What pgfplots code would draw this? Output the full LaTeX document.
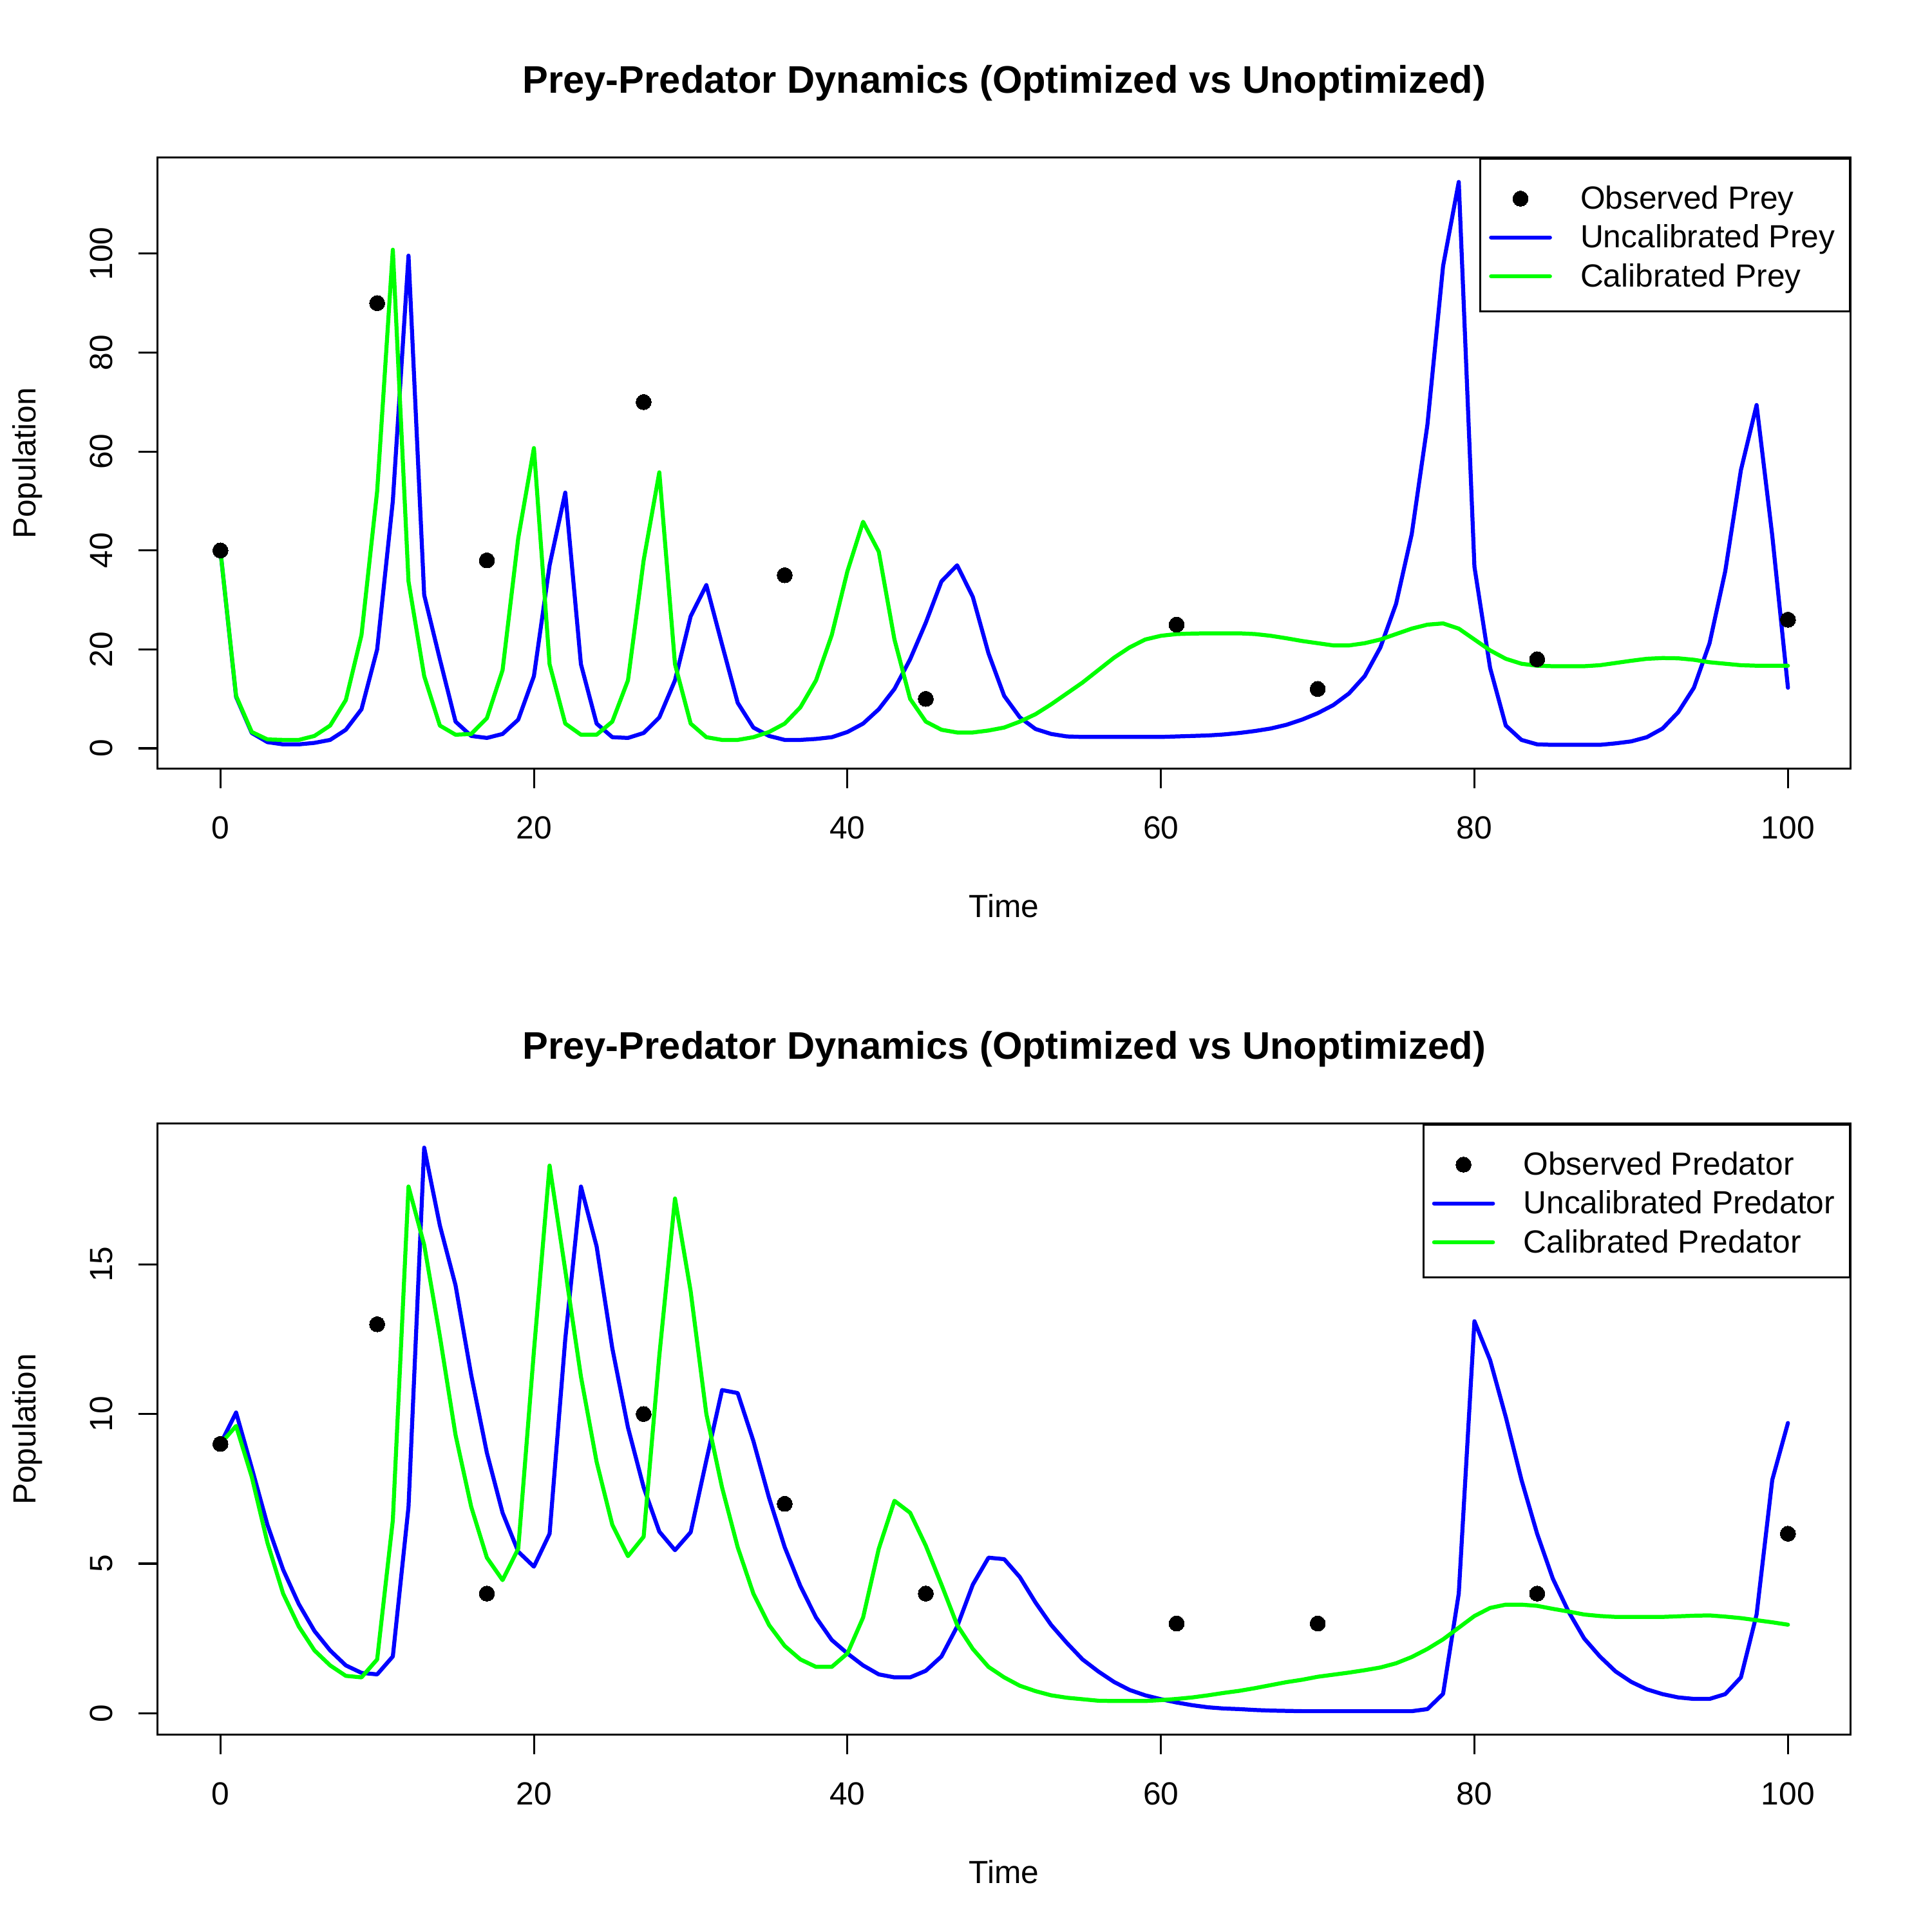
\documentclass[border=0pt]{standalone}
\usepackage{fontspec}
\setmainfont{Liberation Sans}
\usepackage{pgfplots}
\usepackage{pgfplotstable}
\pgfplotsset{compat=1.18}
\definecolor{rblue}{RGB}{0,0,255}
\definecolor{rgreen}{RGB}{0,255,0}

\pgfplotstableread{
t ub ug
0 40 40
1 10.4 10.6
2 3.1 3.3
3 1.25 1.8
4 0.8 1.7
5 0.8 1.7
6 1.1 2.5
7 1.7 4.6
8 3.75 9.75
9 7.9 22.9
10 20 52
11 50 100.8
12 99.6 33.75
13 31 14.6
14 18 4.6
15 5.4 2.75
16 2.5 2.9
17 2.1 6.1
18 2.9 15.8
19 5.8 42.5
20 14.6 60.7
21 37 17
22 51.7 5
23 17 2.75
24 5 2.75
25 2.25 5.4
26 2.1 13.75
27 3.1 38
28 6.25 55.8
29 13.75 17
30 26.7 5
31 33 2.25
32 21 1.7
33 9.2 1.7
34 4.2 2.25
35 2.5 3.3
36 1.7 5
37 1.7 8.3
38 1.9 13.75
39 2.25 22.9
40 3.3 35.8
41 5 45.8
42 7.9 39.75
43 12 22
44 18 10
45 25.4 5.4
46 33.75 3.75
47 37 3.2
48 30.6 3.2
49 19.2 3.6
50 10.6 4.2
51 6.25 5.4
52 3.9 6.9
53 2.9 8.9
54 2.4 11.1
55 2.3 13.3
56 2.3 15.8
57 2.3 18.3
58 2.3 20.4
59 2.3 22
60 2.3 22.75
61 2.4 23.1
62 2.5 23.2
63 2.6 23.25
64 2.8 23.25
65 3.1 23.25
66 3.5 23.1
67 4 22.75
68 4.75 22.25
69 5.8 21.7
70 7.1 21.25
71 8.75 20.8
72 11.1 20.8
73 14.6 21.25
74 20.4 22
75 29.2 23.1
76 43.3 24.2
77 65.4 25
78 97.5 25.25
79 114.5 24.2
80 36.7 22
81 16.25 19.8
82 4.6 18.1
83 1.7 17.1
84 0.8 16.7
85 0.7 16.6
86 0.7 16.6
87 0.7 16.6
88 0.7 16.8
89 1.0 17.25
90 1.4 17.7
91 2.25 18.1
92 4 18.25
93 7.3 18.2
94 12.25 17.9
95 21.25 17.4
96 35.8 17.1
97 56.25 16.8
98 69.4 16.7
99 43 16.7
100 12.25 16.7
}\preytable

\pgfplotstableread{
t ub ug
0 9 9
1 10.05 9.6
2 8.2 7.9
3 6.3 5.7
4 4.8 4.0
5 3.65 2.9
6 2.75 2.1
7 2.1 1.6
8 1.6 1.25
9 1.35 1.2
10 1.3 1.8
11 1.9 6.45
12 6.9 17.6
13 18.9 15.65
14 16.3 12.6
15 14.3 9.3
16 11.3 6.9
17 8.7 5.2
18 6.7 4.45
19 5.4 5.5
20 4.9 12.1
21 6.0 18.3
22 12.5 14.8
23 17.6 11.25
24 15.6 8.4
25 12.2 6.3
26 9.55 5.25
27 7.55 5.9
28 6.07 11.95
29 5.45 17.2
30 6.05 14.1
31 8.45 10.0
32 10.8 7.55
33 10.7 5.55
34 9.1 4.0
35 7.2 2.95
36 5.55 2.25
37 4.25 1.8
38 3.2 1.55
39 2.45 1.55
40 2.0 2.0
41 1.6 3.2
42 1.3 5.5
43 1.2 7.1
44 1.2 6.7
45 1.42 5.6
46 1.9 4.3
47 2.9 2.95
48 4.3 2.15
49 5.2 1.55
50 5.15 1.2
51 4.55 0.92
52 3.7 0.74
53 2.95 0.6
54 2.35 0.52
55 1.8 0.47
56 1.4 0.42
57 1.05 0.41
58 0.78 0.41
59 0.6 0.41
60 0.47 0.44
61 0.36 0.48
62 0.27 0.53
63 0.2 0.6
64 0.16 0.68
65 0.14 0.75
66 0.11 0.84
67 0.09 0.94
68 0.08 1.04
69 0.07 1.12
70 0.07 1.22
71 0.07 1.29
72 0.07 1.36
73 0.07 1.44
74 0.07 1.53
75 0.07 1.67
76 0.07 1.88
77 0.14 2.15
78 0.65 2.47
79 4.0 2.86
80 13.1 3.25
81 11.8 3.52
82 9.9 3.63
83 7.8 3.63
84 6.0 3.59
85 4.5 3.49
86 3.4 3.4
87 2.5 3.3
88 1.9 3.25
89 1.4 3.22
90 1.05 3.22
91 0.8 3.22
92 0.64 3.22
93 0.53 3.24
94 0.48 3.26
95 0.48 3.27
96 0.64 3.23
97 1.2 3.18
98 3.3 3.11
99 7.8 3.04
100 9.7 2.96
}\predtable

\pgfplotstableread{
t prey pred
0 40 9
10 90 13
17 38 4
27 70 10
36 35 7
45 10 4
61 25 3
70 12 3
84 18 4
100 26 6
}\obstable

\pgfplotsset{
  rstyle/.style={
    scale only axis,
    width=632.04bp, height=228.16bp,
    xmin=-4, xmax=104,
    axis line style={line width=0.75bp},
    every tick/.style={black, line width=0.75bp},
    tick align=outside,
    major tick length=7.2bp,
    xtick={0,20,...,100},
    xtick pos=bottom, ytick pos=left,
    /pgf/number format/assume math mode=true,
    tick label style={font=\fontsize{12}{14}\selectfont},
    xticklabel style={anchor=north, inner sep=0pt, yshift=-10.4bp},
    yticklabel style={rotate=90, anchor=south, inner sep=0pt, yshift=9.5bp},
    legend cell align=left,
    legend style={at={(1,1)}, anchor=north east, draw=black, line width=0.75bp,
      fill=white, font=\fontsize{12}{14}\selectfont,
      inner xsep=3.2bp, inner ysep=8bp, row sep=2.5bp,
      nodes={inner sep=0pt, text height=10.8bp, text depth=1.2bp},
      /tikz/every odd column/.append style={column sep=10.6bp}},
  },
  obsstyle/.style={only marks, mark=*, mark size=2.85bp, black,
    mark options={line width=0pt},
    legend image code/.code={\draw[mark repeat=2,mark phase=2,##1] plot coordinates {(0bp,-0.9bp) (11bp,-0.9bp) (22bp,-0.9bp)};}},
  linestyle/.style={no marks, line width=1.5bp, line join=round, line cap=round, #1,
    legend image code/.code={\draw[##1] (0bp,-0.9bp) -- (22bp,-0.9bp);}},
}

\begin{document}
\begin{tikzpicture}
\path[use as bounding box] (0bp,0bp) rectangle (721.3bp,-721.3bp);

\begin{axis}[rstyle, at={(58.88bp,-287.04bp)}, anchor=south west,
  ymin=-4.15, ymax=119.4, ytick={0,20,...,100}]
\addplot[obsstyle] table[x=t, y=prey] {\obstable};
\addlegendentry{Observed Prey}
\addplot[linestyle=rblue] table[x=t, y=ub] {\preytable};
\addlegendentry{Uncalibrated Prey\hspace*{2.3bp}}
\addplot[linestyle=rgreen] table[x=t, y=ug] {\preytable};
\addlegendentry{Calibrated Prey}
\end{axis}

\begin{axis}[rstyle, at={(58.88bp,-647.68bp)}, anchor=south west,
  ymin=-0.72, ymax=19.7, ytick={0,5,10,15}]
\addplot[obsstyle] table[x=t, y=pred] {\obstable};
\addlegendentry{Observed Predator}
\addplot[linestyle=rblue] table[x=t, y=ub] {\predtable};
\addlegendentry{Uncalibrated Predator\hspace*{2.3bp}}
\addplot[linestyle=rgreen] table[x=t, y=ug] {\predtable};
\addlegendentry{Calibrated Predator}
\end{axis}

\node[anchor=base, font=\bfseries\fontsize{14.4}{17}\selectfont, inner sep=0pt] at (374.9bp,-34.68bp) {Prey-Predator Dynamics (Optimized vs Unoptimized)};
\node[anchor=base, font=\bfseries\fontsize{14.4}{17}\selectfont, inner sep=0pt] at (374.9bp,-395.32bp) {Prey-Predator Dynamics (Optimized vs Unoptimized)};
\node[anchor=base, font=\fontsize{12}{14}\selectfont, inner sep=0pt] at (374.9bp,-342.44bp) {Time};
\node[anchor=base, font=\fontsize{12}{14}\selectfont, inner sep=0pt] at (374.9bp,-703.08bp) {Time};
\node[anchor=base, rotate=90, font=\fontsize{12}{14}\selectfont, inner sep=0pt] at (13.4bp,-172.96bp) {Population};
\node[anchor=base, rotate=90, font=\fontsize{12}{14}\selectfont, inner sep=0pt] at (13.4bp,-533.6bp) {Population};
\end{tikzpicture}
\end{document}
